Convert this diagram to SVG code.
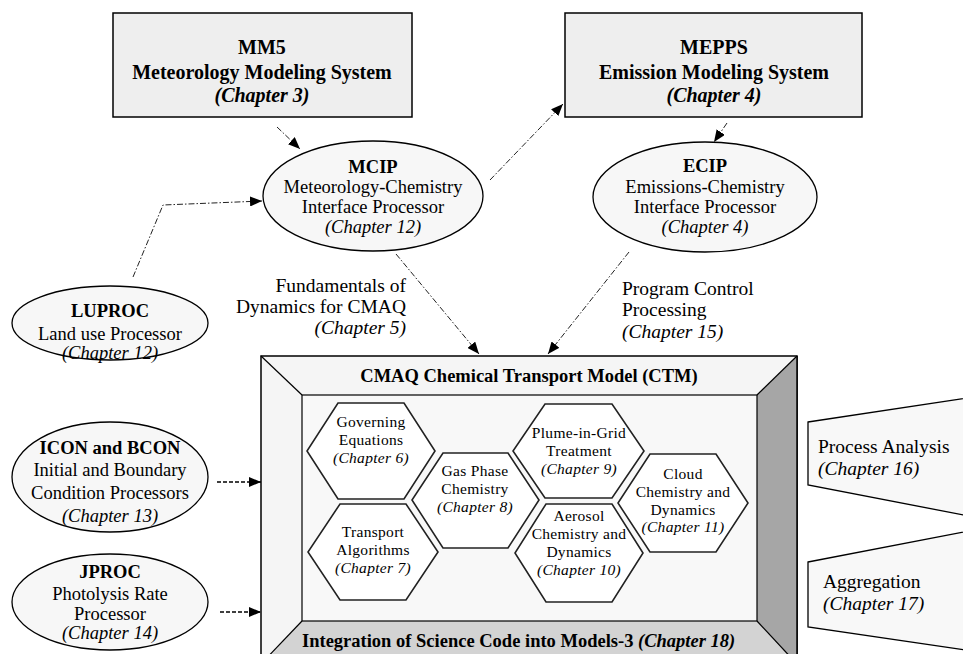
<svg xmlns="http://www.w3.org/2000/svg" width="963" height="654" viewBox="0 0 963 654">
<defs>
<style>
text{font-family:"Liberation Serif","Times New Roman",serif;fill:#000}
.bt{font-size:20px;font-weight:bold;text-anchor:middle}
.bi{font-size:20px;font-weight:bold;font-style:italic;text-anchor:middle}
.et{font-size:18.5px;text-anchor:middle}
.eb{font-size:18.5px;font-weight:bold;text-anchor:middle}
.ei{font-size:18.5px;font-style:italic;text-anchor:middle}
.lb{font-size:19.5px}
.li{font-size:19.5px;font-style:italic}
.ht{font-size:15.5px;text-anchor:middle;letter-spacing:0.3px}
.hi{font-size:15.5px;font-style:italic;text-anchor:middle;letter-spacing:0.3px}
.box{fill:#eeeeee;stroke:#000;stroke-width:1.5}
.ell{fill:#f7f7f7;stroke:#000;stroke-width:1.3}
.hex{fill:#fff;stroke:#222;stroke-width:1.6}
.dd{fill:none;stroke:#222;stroke-width:1;stroke-dasharray:6 2 1.5 2}
.ds{fill:none;stroke:#000;stroke-width:1.5;stroke-dasharray:4 2}
.tab{fill:#f8f8f8;stroke:#000;stroke-width:1.3}
</style>
<marker id="ah" viewBox="0 0 12 10" refX="12" refY="5" markerWidth="12" markerHeight="10" markerUnits="userSpaceOnUse" orient="auto">
<path d="M0,0 L12,5 L0,10 z" fill="#000"/>
</marker>
</defs>
<rect width="963" height="654" fill="#fff"/>

<g id="mm5">
<rect class="box" x="113" y="13" width="299" height="104"/>
<text class="bt" x="262" y="54">MM5</text>
<text class="bt" x="262" y="79">Meteorology Modeling System</text>
<text class="bi" x="262" y="102">(Chapter 3)</text>
</g>

<g id="mepps">
<rect class="box" x="565" y="13" width="297" height="104"/>
<text class="bt" x="714" y="54">MEPPS</text>
<text class="bt" x="714" y="79">Emission Modeling System</text>
<text class="bi" x="714" y="102">(Chapter 4)</text>
</g>

<g id="mcip">
<ellipse class="ell" cx="373" cy="196" rx="110" ry="55"/>
<text class="eb" x="373" y="173">MCIP</text>
<text class="et" x="373" y="193">Meteorology-Chemistry</text>
<text class="et" x="373" y="213">Interface Processor</text>
<text class="ei" x="373" y="233">(Chapter 12)</text>
</g>

<g id="ecip">
<ellipse class="ell" cx="705" cy="197" rx="112" ry="55"/>
<text class="eb" x="705" y="172">ECIP</text>
<text class="et" x="705" y="193">Emissions-Chemistry</text>
<text class="et" x="705" y="213">Interface Processor</text>
<text class="ei" x="705" y="233">(Chapter 4)</text>
</g>

<g id="luproc">
<ellipse class="ell" cx="110" cy="323" rx="98" ry="37"/>
<text class="eb" x="110" y="317">LUPROC</text>
<text class="et" x="110" y="340">Land use Processor</text>
<text class="ei" x="110" y="359">(Chapter 12)</text>
</g>

<g id="icon">
<ellipse class="ell" cx="110" cy="477" rx="98" ry="55"/>
<text class="eb" x="110" y="454">ICON and BCON</text>
<text class="et" x="110" y="476">Initial and Boundary</text>
<text class="et" x="110" y="499">Condition Processors</text>
<text class="ei" x="110" y="522">(Chapter 13)</text>
</g>

<g id="jproc">
<ellipse class="ell" cx="110" cy="602" rx="98" ry="48"/>
<text class="eb" x="110" y="578">JPROC</text>
<text class="et" x="110" y="600">Photolysis Rate</text>
<text class="et" x="110" y="620">Processor</text>
<text class="ei" x="110" y="639">(Chapter 14)</text>
</g>

<g id="labels">
<text class="lb" x="406" y="292" text-anchor="end">Fundamentals of</text>
<text class="lb" x="406" y="313" text-anchor="end">Dynamics for CMAQ</text>
<text class="li" x="406" y="334" text-anchor="end">(Chapter 5)</text>
<text class="lb" x="622" y="295">Program Control</text>
<text class="lb" x="622" y="316">Processing</text>
<text class="li" x="622" y="338">(Chapter 15)</text>
</g>

<g id="ctm">
<rect x="261" y="356" width="536" height="310" fill="#f5f5f5" stroke="#000" stroke-width="1.5"/>
<polygon points="757,395 797,356 797,666 757,621" fill="#a6a6a6"/>
<polygon points="261,666 302,621 757,621 797,666" fill="#d3d3d3"/>
<rect x="302" y="395" width="455" height="226" fill="#f8f8f8" stroke="#000" stroke-width="1.2"/>
<line x1="261" y1="356" x2="302" y2="395" stroke="#000" stroke-width="1.2"/>
<line x1="797" y1="356" x2="757" y2="395" stroke="#000" stroke-width="1.2"/>
<line x1="302" y1="621" x2="261" y2="664" stroke="#000" stroke-width="1.2"/>
<line x1="757" y1="621" x2="797" y2="664" stroke="#000" stroke-width="1.2"/>
<line x1="797" y1="356" x2="797" y2="654" stroke="#000" stroke-width="1.5"/>
<text class="eb" x="529" y="382">CMAQ Chemical Transport Model (CTM)</text>
<text x="302" y="647" style="font-size:18.5px;font-weight:bold">Integration of Science Code into Models-3 <tspan font-style="italic">(Chapter 18)</tspan></text>
</g>

<g id="hex-governing">
<polygon class="hex" points="338,403 404,403 435,451 404,499 338,499 307,451"/>
<text class="ht" x="371" y="427">Governing</text>
<text class="ht" x="371" y="445">Equations</text>
<text class="hi" x="371" y="463">(Chapter 6)</text>
</g>
<g id="hex-transport">
<polygon class="hex" points="340,504 406,504 438,552 406,600 340,600 308,552"/>
<text class="ht" x="373" y="537">Transport</text>
<text class="ht" x="373" y="555">Algorithms</text>
<text class="hi" x="373" y="573">(Chapter 7)</text>
</g>
<g id="hex-gas">
<polygon class="hex" points="443,453 508,453 539,500 508,548 443,548 412,500"/>
<text class="ht" x="475" y="476">Gas Phase</text>
<text class="ht" x="475" y="494">Chemistry</text>
<text class="hi" x="475" y="512">(Chapter 8)</text>
</g>
<g id="hex-plume">
<polygon class="hex" points="545,404 612,404 644,451 612,498 545,498 513,451"/>
<text class="ht" x="579" y="438">Plume-in-Grid</text>
<text class="ht" x="579" y="456">Treatment</text>
<text class="hi" x="579" y="474">(Chapter 9)</text>
</g>
<g id="hex-aerosol">
<polygon class="hex" points="546,504 612,504 643,553 612,602 546,602 515,553"/>
<text class="ht" x="579" y="521">Aerosol</text>
<text class="ht" x="579" y="539">Chemistry and</text>
<text class="ht" x="579" y="557">Dynamics</text>
<text class="hi" x="579" y="575">(Chapter 10)</text>
</g>
<g id="hex-cloud">
<polygon class="hex" points="650,454 716,454 748,503 716,552 650,552 618,503"/>
<text class="ht" x="683" y="479">Cloud</text>
<text class="ht" x="683" y="497">Chemistry and</text>
<text class="ht" x="683" y="515">Dynamics</text>
<text class="hi" x="683" y="532">(Chapter 11)</text>
</g>

<g id="process-analysis">
<polygon class="tab" points="808,422 1000,393 1000,522 808,485"/>
<text class="lb" x="818" y="453">Process Analysis</text>
<text class="li" x="818" y="475">(Chapter 16)</text>
</g>
<g id="aggregation">
<polygon class="tab" points="808,562 1000,525 1000,655 808,627"/>
<text class="lb" x="823" y="588">Aggregation</text>
<text class="li" x="823" y="610">(Chapter 17)</text>
</g>

<g id="connectors">
<path class="dd" d="M277,127 L300,149" marker-end="url(#ah)"/>
<path class="dd" d="M490,180 L563,104" marker-end="url(#ah)"/>
<path class="dd" d="M727,123 L714,142" marker-end="url(#ah)"/>
<path class="dd" d="M133,277 L163,205 L262,201" marker-end="url(#ah)"/>
<path class="dd" d="M396,254 L479,354" marker-end="url(#ah)"/>
<path class="dd" d="M629,252 L548,354" marker-end="url(#ah)"/>
<path class="ds" d="M217,482 L261,482" marker-end="url(#ah)"/>
<path class="ds" d="M220,612 L261,612" marker-end="url(#ah)"/>
</g>
</svg>
